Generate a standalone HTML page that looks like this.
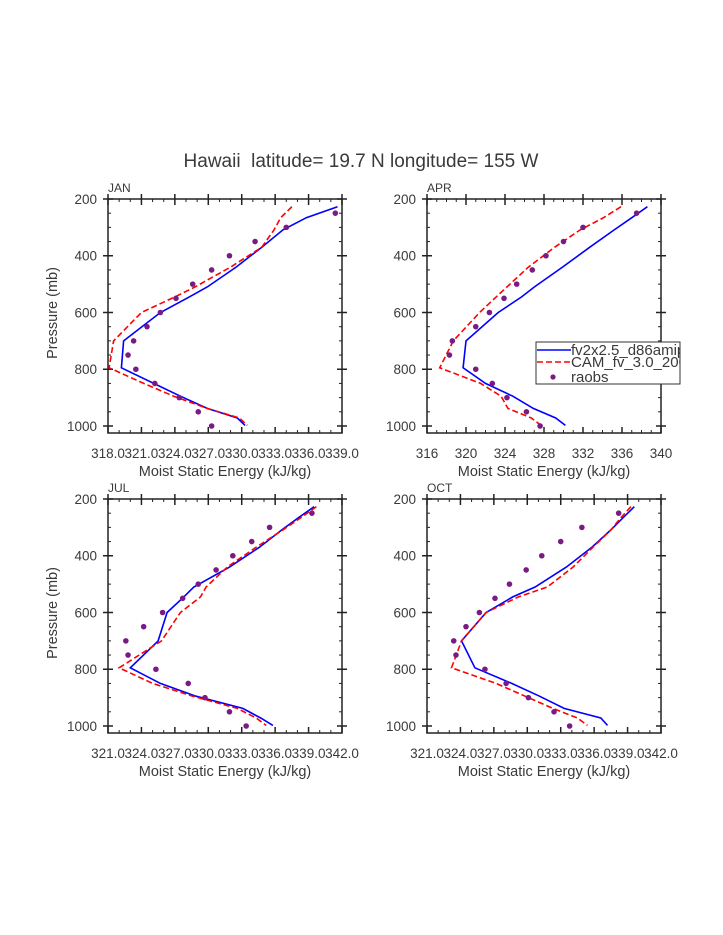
<!DOCTYPE html>
<html><head><meta charset="utf-8"><style>
html,body{margin:0;padding:0;background:#fff}
svg{display:block}
text{font-family:"Liberation Sans",sans-serif;fill:#3a3a3a}
</style></head><body>
<svg id="fig" width="723" height="935" viewBox="0 0 723 935">
<text x="361" y="167" text-anchor="middle" font-size="19" style="white-space:pre" fill="#444">Hawaii  latitude= 19.7 N longitude= 155 W</text>
</svg>
<script>
// shared pressure levels (mb)
const modelLevels=[227,266,309,370,440,510,545,600,700,795,850,895,938,972,998];
const obsLevels=[250,300,350,400,450,500,550,600,650,700,750,800,850,900,950,1000];
const yTicks=[200,400,600,800,1000];
// JAN
const janBlue=[338.6,335.8,333.7,331.8,329.5,326.9,325.3,322.7,319.4,319.2,322.1,324.5,326.9,329.6,330.3];
const janRed=[334.5,333.5,332.9,331.8,329.0,325.8,324.0,321.0,318.5,318.1,321.2,323.9,326.9,329.8,330.5];
const janObs=[338.4,334.0,331.2,328.9,327.3,325.6,324.1,322.7,321.5,320.3,319.8,320.5,322.2,324.4,326.1,327.3];
const janTicks=[318,321,324,327,330,333,336,339];
// APR
const aprBlue=[338.6,337.0,335.2,332.7,329.9,327.0,325.7,323.3,320.0,319.7,322.0,324.8,326.9,329.2,330.2];
const aprRed=[335.9,334.1,331.7,329.1,326.4,324.2,323.1,321.4,318.7,317.3,321.5,323.6,324.3,326.7,327.7];
const aprObs=[337.5,332.0,330.0,328.2,326.8,325.2,323.9,322.4,321.0,318.6,318.3,321.0,322.7,324.2,326.2,327.6];
const aprTicks=[316,320,324,328,332,336,340];
// JUL
const julBlue=[339.5,338.1,336.6,334.6,331.9,328.7,327.8,326.3,325.5,323.0,325.7,328.9,333.1,334.7,335.8];
const julRed=[339.7,338.3,336.7,334.3,331.7,329.8,329.3,327.5,325.8,322.0,325.0,328.6,332.6,334.3,335.2];
const julObs=[339.3,335.5,333.9,332.2,330.7,329.1,327.7,325.9,324.2,322.6,322.8,325.3,328.2,329.7,331.9,333.4];
const julTicks=[321,324,327,330,333,336,339,342];
// OCT
const octBlue=[339.6,338.6,337.5,335.8,333.5,330.7,328.7,326.3,324.1,325.3,328.6,331.1,333.3,336.6,337.2];
const octRed=[339.3,338.4,337.5,335.9,334.1,331.8,329.2,326.3,324.1,323.2,327.2,329.8,332.3,334.5,335.4];
const octObs=[338.2,334.9,333.0,331.3,329.9,328.4,327.1,325.7,324.5,323.4,323.6,326.2,328.1,330.1,332.4,333.8];
const octTicks=[321,324,327,330,333,336,339,342];

const NS="http://www.w3.org/2000/svg";
const svg=document.getElementById('fig');
function mk(tag,attrs,parent){const e=document.createElementNS(NS,tag);for(const k in attrs)e.setAttribute(k,attrs[k]);(parent||svg).appendChild(e);return e;}

function panel(name,label,L,T,xt,blue,red,obs,legend){
  const W=234,H=234,pMin=200,pMax=1024.7;
  const xMin=xt[0],xMax=xt[xt.length-1];
  const sx=v=>L+(v-xMin)/(xMax-xMin)*W;
  const sy=p=>T+(p-pMin)/(pMax-pMin)*H;
  const g=mk('g',{});
  
  
  const ml=mk('text',{x:L,y:T-7,'font-size':12},g);ml.textContent=label;
  
  
  const fr=mk('rect',{x:L,y:T,width:W,height:H,fill:'none',stroke:'#222','stroke-width':1.5},g);
  
  
  for(let p=200;p<=1000;p+=50){
    const y=sy(p),maj=(p%200===0);
    const a=maj?5:3;
    mk('line',{x1:L-(maj?5:0),x2:L+a,y1:y,y2:y,stroke:'#222','stroke-width':maj?1.5:1},g);
    mk('line',{x1:L+W-a,x2:L+W+(maj?5:0),y1:y,y2:y,stroke:'#222','stroke-width':maj?1.5:1},g);
  }
  yTicks.forEach(p=>{const t=mk('text',{x:L-11,y:sy(p)+5,'text-anchor':'end','font-size':13.5},g);t.textContent=p;
    
    });
  for(let v=xMin;v<=xMax+1e-9;v+=1){
    const x=sx(v),maj=xt.some(t=>Math.abs(t-v)<1e-9);
    const a=maj?6:3;
    mk('line',{x1:x,x2:x,y1:T+H,y2:T+H-a,stroke:'#222','stroke-width':maj?1.5:1},g);
    mk('line',{x1:x,x2:x,y1:T-(maj?5:0),y2:T+a,stroke:'#222','stroke-width':maj?1.5:1},g);
  }
  const dec=(xt[1]-xt[0])===4?0:1;
  xt.forEach(v=>{const t=mk('text',{x:sx(v),y:T+H+25,'text-anchor':'middle','font-size':13.5},g);t.textContent=v.toFixed(dec);
    
    });
  const xa=mk('text',{x:L+W/2,y:T+H+43,'text-anchor':'middle','font-size':14.5},g);xa.textContent='Moist Static Energy (kJ/kg)';
  
  
  if(L<200){const ya=mk('text',{x:0,y:0,'text-anchor':'middle','font-size':14.5,transform:`translate(${L-51},${T+114}) rotate(-90)`},g);ya.textContent='Pressure (mb)';
    
    }
  const cp=mk('clipPath',{id:'c'+name},g);mk('rect',{x:L,y:T,width:W,height:H},cp);
  const pts=arr=>arr.map((v,i)=>sx(v).toFixed(1)+','+sy(modelLevels[i]).toFixed(1)).join(' ');
  const bl=mk('polyline',{points:pts(blue),fill:'none',stroke:'#0000ff','stroke-width':1.6,'clip-path':`url(#c${name})`},g);
  
  
  const rl=mk('polyline',{points:pts(red),fill:'none',stroke:'#ff0000','stroke-width':1.6,'stroke-dasharray':'6,3','clip-path':`url(#c${name})`},g);
  
  
  obs.forEach((v,i)=>{const c=mk('circle',{cx:sx(v),cy:sy(obsLevels[i]),r:2.8,fill:'#7a1a84'},g);
    
    });
  if(legend){
    const lg=mk('g',{},g);
    
    
    mk('rect',{x:536,y:342,width:144,height:42,fill:'#fff',stroke:'#333','stroke-width':1},lg);
    const lc=mk('clipPath',{id:'lgc'},lg);mk('rect',{x:536,y:340,width:144,height:46},lc);
    mk('line',{x1:537,x2:571,y1:350,y2:350,stroke:'#0000ff','stroke-width':1.6},lg);
    mk('line',{x1:537,x2:571,y1:362,y2:362,stroke:'#ff0000','stroke-width':1.6,'stroke-dasharray':'6,3'},lg);
    mk('circle',{cx:553,cy:377,r:2.6,fill:'#7a1a84'},lg);
    const names=['fv2x2.5_d86amip','CAM_fv_3.0_2000','raobs'];
    const ys=[355,367,382];
    names.forEach((n,i)=>{const t=mk('text',{x:571,y:ys[i],'font-size':15,'clip-path':'url(#lgc)'},lg);t.textContent=n;
      
      });
  }
}
panel('jan','JAN',108,199,janTicks,janBlue,janRed,janObs,false);
panel('apr','APR',427,199,aprTicks,aprBlue,aprRed,aprObs,true);
panel('jul','JUL',108,499,julTicks,julBlue,julRed,julObs,false);
panel('oct','OCT',427,499,octTicks,octBlue,octRed,octObs,false);
</script>
</body></html>
